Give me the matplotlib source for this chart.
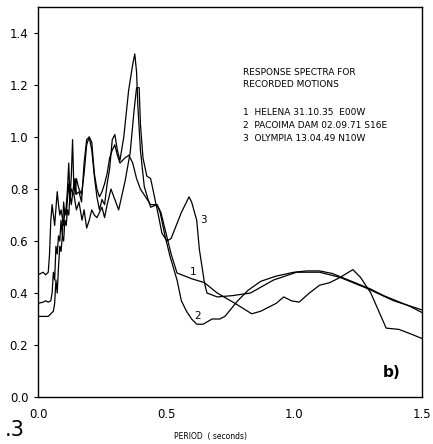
import matplotlib
matplotlib.use("Agg")
import matplotlib.pyplot as plt

# Curve 1: HELENA 31.10.35 E00W
p1 = [0.00, 0.02, 0.04, 0.05, 0.06, 0.065, 0.07, 0.075, 0.08, 0.085, 0.09, 0.095,
      0.10, 0.105, 0.11, 0.115, 0.12, 0.125, 0.13, 0.14, 0.145, 0.15, 0.16, 0.17,
      0.18, 0.19, 0.20, 0.21, 0.22, 0.23, 0.24, 0.25, 0.26, 0.27, 0.28, 0.29,
      0.30, 0.31, 0.32, 0.33, 0.34, 0.355, 0.37, 0.385, 0.40, 0.42, 0.44, 0.465,
      0.48, 0.50, 0.52, 0.543, 0.60, 0.65, 0.70, 0.77, 0.835, 0.87, 0.90, 0.93,
      0.96, 0.99, 1.02, 1.06, 1.10, 1.14, 1.18, 1.23, 1.26, 1.30, 1.36, 1.41,
      1.45, 1.50]
v1 = [0.31, 0.31, 0.31, 0.32, 0.33, 0.36, 0.45, 0.40, 0.50, 0.58, 0.56, 0.62,
      0.60, 0.68, 0.66, 0.72, 0.70, 0.78, 0.74, 0.82, 0.78, 0.84, 0.80, 0.78,
      0.86, 0.97, 1.00, 0.98, 0.86, 0.80, 0.77, 0.79, 0.82, 0.86, 0.92, 0.95,
      0.97, 0.93, 0.90, 0.91, 0.92, 0.93, 0.90, 0.84, 0.80, 0.77, 0.74, 0.74,
      0.71, 0.63, 0.55, 0.477, 0.455, 0.44, 0.40, 0.36, 0.32, 0.33, 0.345, 0.36,
      0.385, 0.37, 0.365, 0.40, 0.43, 0.44, 0.46, 0.49, 0.46, 0.40, 0.265, 0.26,
      0.245, 0.225]

# Curve 2: PACOIMA DAM 02.09.71 S16E
p2 = [0.00, 0.02, 0.03, 0.04, 0.05, 0.055, 0.06, 0.065, 0.07, 0.075, 0.08, 0.085,
      0.09, 0.095, 0.10, 0.105, 0.11, 0.115, 0.12, 0.125, 0.13, 0.135, 0.14,
      0.145, 0.15, 0.16, 0.17, 0.18, 0.19, 0.20, 0.21, 0.22, 0.23, 0.24, 0.25,
      0.26, 0.27, 0.28, 0.29, 0.30, 0.31, 0.32, 0.335, 0.354, 0.37, 0.378, 0.385,
      0.39, 0.40, 0.415, 0.43, 0.44, 0.465, 0.477, 0.496, 0.516, 0.543, 0.56,
      0.58, 0.60, 0.62, 0.645, 0.68, 0.71, 0.73, 0.78, 0.82, 0.87, 0.93, 1.00,
      1.05, 1.10, 1.15, 1.20, 1.25, 1.30, 1.35, 1.40, 1.45, 1.50]
v2 = [0.36, 0.365, 0.37, 0.365, 0.37, 0.40, 0.48, 0.45, 0.58, 0.55, 0.62, 0.60,
      0.68, 0.62, 0.75, 0.70, 0.73, 0.80, 0.90, 0.76, 0.85, 0.99, 0.80, 0.84,
      0.78, 0.79, 0.75, 0.90, 0.99, 1.00, 0.95, 0.85, 0.77, 0.72, 0.76, 0.74,
      0.82, 0.88, 0.99, 1.01, 0.95, 0.91, 1.00, 1.18, 1.28, 1.32, 1.25, 1.12,
      0.95, 0.81, 0.76, 0.73, 0.74, 0.71, 0.62, 0.54, 0.45, 0.37, 0.33, 0.30,
      0.28, 0.28, 0.30, 0.30, 0.31, 0.37, 0.41, 0.445, 0.465, 0.48, 0.485,
      0.485, 0.475, 0.455, 0.435, 0.415, 0.39, 0.37, 0.35, 0.325]

# Curve 3: OLYMPIA 13.04.49 N10W
p3 = [0.00, 0.02, 0.03, 0.04, 0.045, 0.05, 0.055, 0.06, 0.065, 0.075, 0.08, 0.085,
      0.09, 0.10, 0.105, 0.11, 0.12, 0.125, 0.13, 0.14, 0.15, 0.16, 0.172, 0.18,
      0.19, 0.20, 0.21, 0.22, 0.23, 0.24, 0.25, 0.26, 0.27, 0.285, 0.30, 0.315,
      0.34, 0.36, 0.375, 0.385, 0.395, 0.40, 0.41, 0.425, 0.44, 0.457, 0.47,
      0.484, 0.504, 0.52, 0.54, 0.56, 0.58, 0.59, 0.60, 0.62, 0.63, 0.65, 0.66,
      0.70, 0.76, 0.83, 0.92, 1.01, 1.10, 1.18, 1.28, 1.39, 1.50]
v3 = [0.47, 0.48, 0.47, 0.48, 0.55, 0.68, 0.74, 0.70, 0.66, 0.79, 0.74, 0.70,
      0.72, 0.66, 0.72, 0.70, 0.82, 0.76, 0.80, 0.78, 0.72, 0.75, 0.68, 0.72,
      0.65, 0.68, 0.72, 0.70, 0.69, 0.71, 0.73, 0.69, 0.74, 0.80, 0.76, 0.72,
      0.83, 0.94, 1.10, 1.19, 1.19, 1.05, 0.92, 0.85, 0.84, 0.76, 0.70,
      0.63, 0.60, 0.61, 0.66, 0.71, 0.75, 0.77, 0.75, 0.68, 0.57, 0.44, 0.40,
      0.385, 0.39, 0.40, 0.45, 0.48, 0.48, 0.46, 0.42, 0.37, 0.335]

y_ticks = [0.0, 0.2, 0.4, 0.6, 0.8, 1.0, 1.2, 1.4]
x_ticks = [0.0, 0.5, 1.0, 1.5]

title_lines = "RESPONSE SPECTRA FOR\nRECORDED MOTIONS"
legend_lines = ["1  HELENA 31.10.35  E00W",
                "2  PACOIMA DAM 02.09.71 S16E",
                "3  OLYMPIA 13.04.49 N10W"]

fig = plt.figure(figsize=(4.33, 4.44), dpi=100)
ax = fig.add_axes([0.0878, 0.1059, 0.8868, 0.8781])

for p, v in [(p1, v1), (p2, v2), (p3, v3)]:
    ax.plot(p, v, color="black", lw=0.9)

ax.set_xlim(0, 1.5)
ax.set_ylim(0, 1.5)
ax.set_yticks(y_ticks)
ax.set_yticklabels([f"{t:.1f}" for t in y_ticks], fontsize=8.5)
ax.set_xticks(x_ticks)
ax.set_xticklabels([f"{t:.1f}" for t in x_ticks], fontsize=8.5)
ax.tick_params(axis="y", direction="out", length=3, width=0.8, pad=4)
ax.tick_params(axis="x", direction="out", length=0, pad=8)
for s in ax.spines.values():
    s.set_linewidth(1.0)

ax.text(0.80, 1.265, title_lines, fontsize=6.5, va="top", ha="left", linespacing=1.35)
ax.text(0.80, 1.11, "\n".join(legend_lines), fontsize=6.5, va="top", ha="left",
        linespacing=1.55)

ax.text(0.605, 0.46, "1", fontsize=7.5, ha="center", va="bottom")
ax.text(0.625, 0.31, "2", fontsize=7.5, ha="center", va="center")
ax.text(0.645, 0.68, "3", fontsize=7.5, ha="center", va="center")
ax.text(1.38, 0.095, "b)", fontsize=11, fontweight="bold", ha="center", va="center")

fig.text(0.485, 0.018, "PERIOD  ( seconds)", fontsize=5.5, ha="center", va="center")
fig.text(0.01, 0.032, ".3", fontsize=15, ha="left", va="center")

fig.savefig("out.png", dpi=100)
